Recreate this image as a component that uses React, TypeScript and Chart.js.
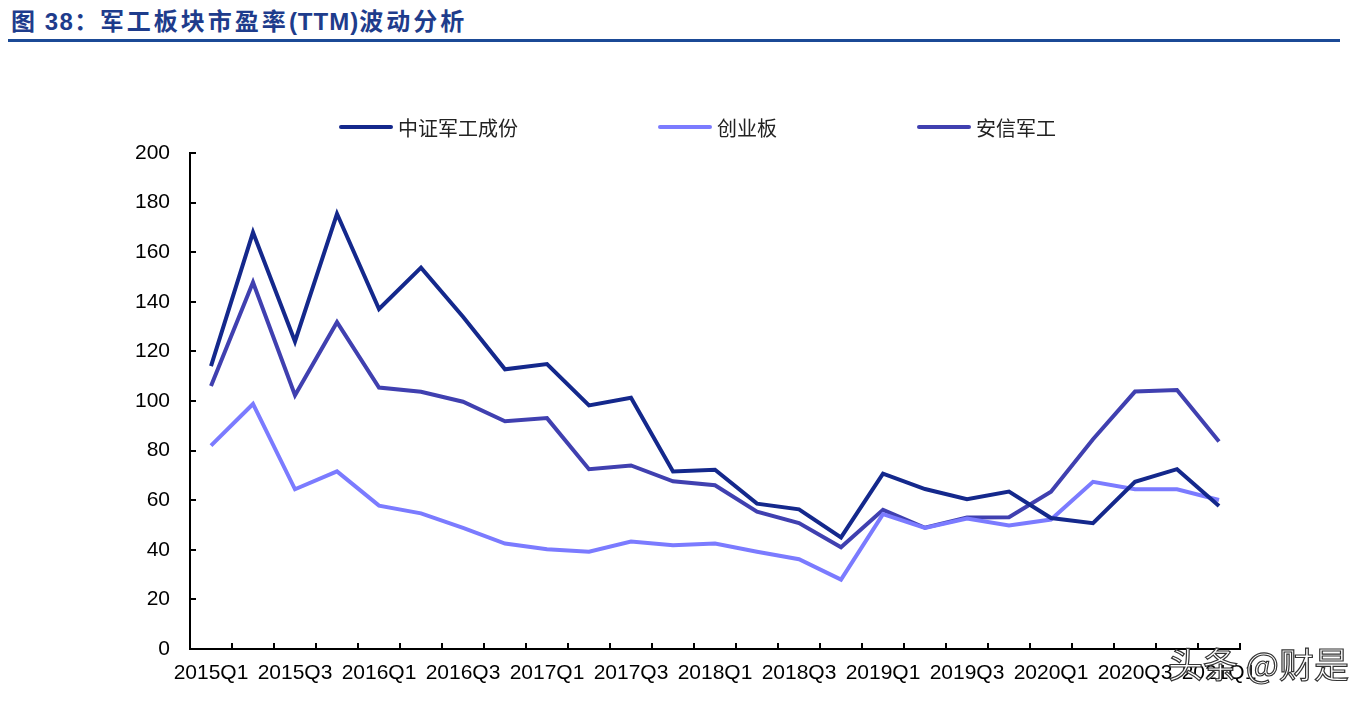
import { useEffect, useRef } from 'react';
import { Chart, registerables } from 'chart.js';

Chart.register(...registerables);

const quarters = [
  '2015Q1', '2015Q2', '2015Q3', '2015Q4',
  '2016Q1', '2016Q2', '2016Q3', '2016Q4',
  '2017Q1', '2017Q2', '2017Q3', '2017Q4',
  '2018Q1', '2018Q2', '2018Q3', '2018Q4',
  '2019Q1', '2019Q2', '2019Q3', '2019Q4',
  '2020Q1', '2020Q2', '2020Q3', '2020Q4',
  '2021Q1',
];

// 中证军工成份
const zzjg = [114.1, 168.0, 124.0, 175.5, 137.1, 153.8, 134.0, 112.8, 114.9, 98.2, 101.3, 71.6, 72.3, 58.6, 56.3, 45.0, 70.7, 64.5, 60.4, 63.5, 52.8, 50.7, 67.4, 72.5, 57.7];
// 创业板
const cyb = [82.0, 98.8, 64.4, 71.6, 57.8, 54.7, 48.8, 42.5, 40.2, 39.2, 43.3, 41.8, 42.5, 39.2, 36.2, 28.0, 54.4, 48.8, 52.6, 49.8, 52.2, 67.4, 64.4, 64.4, 60.1];
// 安信军工
const axjg = [106.0, 147.9, 102.3, 131.8, 105.4, 103.7, 99.7, 91.8, 93.1, 72.5, 74.0, 67.6, 66.0, 55.4, 50.8, 41.0, 56.1, 48.9, 53.0, 53.1, 63.4, 84.6, 103.8, 104.4, 83.7];

const yTicks = { min: 0, max: 200, step: 20 };

const series = [
  { label: '中证军工成份', data: zzjg, color: '#14288c' },
  { label: '创业板', data: cyb, color: '#7b7bff' },
  { label: '安信军工', data: axjg, color: '#4040b0' },
];

const FONT = '"Liberation Sans", Arial, "Noto Sans CJK SC", sans-serif';

// inward tick marks on both axes
const innerTicks = {
  id: 'innerTicks',
  afterDraw(chart: Chart) {
    const { ctx, chartArea, scales } = chart;
    const x = scales.x;
    const y = scales.y;
    ctx.save();
    ctx.strokeStyle = '#000';
    ctx.lineWidth = 2;
    ctx.beginPath();
    y.ticks.forEach((t) => {
      const py = Math.round(y.getPixelForValue(t.value));
      ctx.moveTo(chartArea.left, py);
      ctx.lineTo(chartArea.left + 6, py);
    });
    for (let i = 0; i < quarters.length; i++) {
      const px = Math.round(x.getPixelForValue(i + 0.5));
      ctx.moveTo(px, chartArea.bottom);
      ctx.lineTo(px, chartArea.bottom - 6);
    }
    ctx.stroke();
    ctx.restore();
  },
};

export default function App() {
  const canvasRef = useRef<HTMLCanvasElement>(null);
  const chartRef = useRef<Chart | null>(null);

  useEffect(() => {
    if (!canvasRef.current) return;
    chartRef.current?.destroy();

    chartRef.current = new Chart(canvasRef.current, {
      type: 'line',
      data: {
        labels: quarters,
        datasets: series.map((s) => ({
          label: s.label,
          data: s.data,
          borderColor: s.color,
          backgroundColor: s.color,
          borderWidth: 4,
          pointRadius: 0,
          pointHoverRadius: 0,
          tension: 0,
          fill: false,
        })),
      },
      options: {
        animation: false,
        responsive: true,
        maintainAspectRatio: false,
        layout: { padding: { left: 122, right: 118, top: 145, bottom: 7 } },
        plugins: {
          legend: { display: false },
          tooltip: { enabled: false },
        },
        scales: {
          x: {
            offset: true,
            afterFit: (s) => { s.height = 40; },
            grid: { display: false, drawTicks: false, offset: true },
            border: { display: true, color: '#000', width: 2 },
            ticks: {
              autoSkip: false,
              maxRotation: 0,
              padding: 12,
              color: '#000',
              font: { family: FONT, size: 21 },
              callback: (_v, i) => (i % 2 === 0 ? quarters[i] : ''),
            },
          },
          y: {
            min: yTicks.min,
            max: yTicks.max,
            afterFit: (s) => { s.width = 60; },
            grid: { display: false, drawTicks: false },
            border: { display: true, color: '#000', width: 2 },
            ticks: {
              stepSize: yTicks.step,
              padding: 20,
              color: '#000',
              font: { family: FONT, size: 21 },
            },
          },
        },
      },
      plugins: [innerTicks],
    });

    return () => { chartRef.current?.destroy(); chartRef.current = null; };
  }, []);

  return (
    <div style={{ position: 'relative', width: 1350, height: 688, fontFamily: FONT }}>
      <div
        style={{
          position: 'absolute', left: 3, top: 2, fontSize: 24, lineHeight: '24px',
          fontWeight: 'bold', color: '#1e3c8c', whiteSpace: 'nowrap',
        }}
      >
        <span style={{ letterSpacing: 1.5 }}>图 38：</span>
        <span style={{ letterSpacing: 3 }}>军工板块市盈率</span>
        <span style={{ letterSpacing: 1 }}>(TTM)</span>
        <span style={{ letterSpacing: 3 }}>波动分析</span>
      </div>
      <div style={{ position: 'absolute', left: -1, top: 31, width: 1333, height: 3, background: '#1b4a96' }} />

      <div style={{ position: 'absolute', inset: 0 }}>
        <canvas ref={canvasRef} />
      </div>

      <div style={{ position: 'absolute', left: 331, top: 107, display: 'flex', gap: 140, alignItems: 'center' }}>
        {series.map((s) => (
          <div key={s.label} style={{ display: 'flex', alignItems: 'center', height: 24 }}>
            <span style={{ display: 'inline-block', width: 54, height: 4, borderRadius: 2, background: s.color, marginRight: 5 }} />
            <span style={{ fontSize: 20, color: '#222', fontFamily: '"Noto Sans CJK SC", sans-serif', whiteSpace: 'nowrap' }}>
              {s.label}
            </span>
          </div>
        ))}
      </div>

      <div
        style={{
          position: 'absolute', left: 1160, top: 637, fontSize: 35, lineHeight: '35px',
          fontFamily: '"Noto Sans CJK SC", sans-serif', color: '#fff',
          WebkitTextStroke: '1.2px #333', whiteSpace: 'nowrap',
        }}
      >
        头条 @财是
      </div>
    </div>
  );
}
